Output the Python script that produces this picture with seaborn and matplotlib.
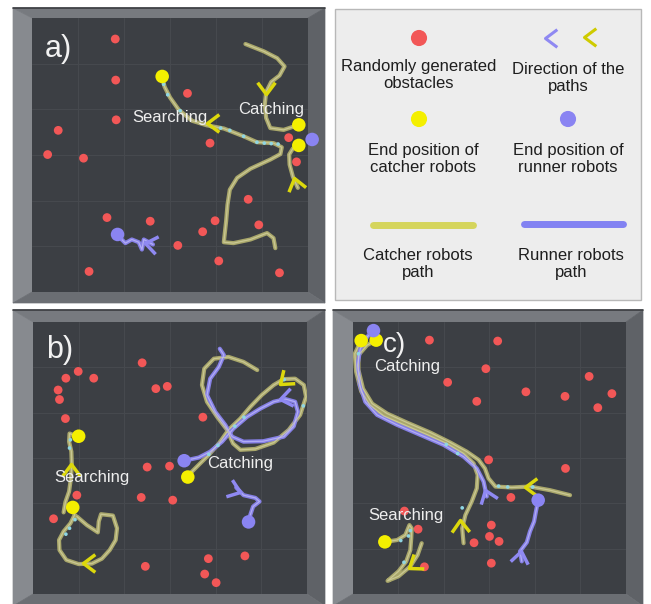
import matplotlib
matplotlib.use("Agg")
import matplotlib.pyplot as plt
from matplotlib.markers import MarkerStyle
from matplotlib.path import Path
from matplotlib.transforms import Affine2D
from matplotlib.patches import Polygon, Rectangle
import seaborn as sns

sns.set_style("white")
plt.rcParams["font.family"] = ["Liberation Sans", "DejaVu Sans"]

# ---------------- arena a ----------------
a_obst_x = [1.81, 1.82, 1.83, 3.38, 0.57, 0.34, 1.12, 3.87, 5.58, 5.75, 4.70, 1.63, 2.57, 3.98, 4.93, 3.71, 3.17, 4.06, 1.24, 5.38]
a_obst_y = [0.46, 1.36, 2.23, 1.65, 2.46, 2.99, 3.07, 2.74, 2.62, 3.15, 3.97, 4.37, 4.45, 4.44, 4.53, 4.68, 4.98, 5.32, 5.55, 5.58]
a_catcher_end_x = [2.83, 5.80, 5.80]
a_catcher_end_y = [1.28, 2.34, 2.79]
a_runner_end_x = [6.09, 1.86]
a_runner_end_y = [2.66, 4.74]

a_c1_x = [5.29, 5.25, 5.11, 4.75, 4.38, 4.17, 4.22, 4.25, 4.30, 4.46, 4.75, 5.18, 5.40, 5.43, 5.25, 4.89, 4.60, 4.17, 3.80, 3.48, 3.19, 3.00, 2.88, 2.83]
a_c1_y = [5.04, 4.82, 4.71, 4.85, 4.93, 4.91, 4.45, 4.09, 3.76, 3.50, 3.30, 3.10, 2.98, 2.83, 2.74, 2.72, 2.59, 2.42, 2.35, 2.25, 2.01, 1.74, 1.50, 1.28]
a_c2_x = [4.64, 5.04, 5.33, 5.49, 5.38, 5.20, 5.09, 5.06, 5.09, 5.18, 5.47, 5.80]
a_c2_y = [0.57, 0.73, 0.88, 1.06, 1.26, 1.40, 1.62, 1.90, 2.19, 2.41, 2.45, 2.34]
a_c3_x = [5.78, 5.67, 5.60, 5.59, 5.67, 5.80]
a_c3_y = [3.72, 3.47, 3.21, 2.99, 2.86, 2.79]
a_r1_x = [2.63, 2.43, 2.39, 2.32, 2.17, 2.03, 1.92, 1.86]
a_r1_y = [4.96, 4.85, 5.07, 4.91, 4.85, 4.93, 4.82, 4.74]
a_dots_x = [2.86, 2.95, 3.22, 3.90, 4.10, 4.30, 4.60, 4.89, 5.05, 5.20, 5.35]
a_dots_y = [1.45, 1.68, 2.03, 2.38, 2.41, 2.46, 2.59, 2.72, 2.74, 2.75, 2.76]
a_arrow_x = [3.80, 5.09, 5.70]
a_arrow_y = [2.30, 1.66, 3.50]
a_arrow_deg = [180, 270, 105]
a_rarrow_x = [2.46]
a_rarrow_y = [4.93]
a_rarrow_deg = [170]

# ---------------- arena b ----------------
b_obst_x = [2.39, 0.99, 0.72, 1.33, 0.55, 0.58, 2.69, 2.94, 3.72, 0.71, 2.50, 2.99, 2.37, 3.06, 0.96, 0.45, 2.46, 3.84, 4.64, 3.76, 4.01]
b_obst_y = [0.90, 1.09, 1.24, 1.24, 1.50, 1.71, 1.47, 1.42, 2.10, 2.13, 3.20, 3.18, 3.87, 3.93, 3.82, 4.34, 5.39, 5.22, 5.16, 5.56, 5.75]
b_catcher_end_x = [1.00, 0.87, 3.39]
b_catcher_end_y = [2.52, 4.09, 3.42]
b_runner_end_x = [3.31, 4.72]
b_runner_end_y = [3.06, 4.41]

b_c1_x = [0.67, 0.71, 0.79, 0.83, 0.85, 0.84, 0.79, 0.80, 0.93]
b_c1_y = [4.20, 3.97, 3.74, 3.45, 3.15, 2.86, 2.64, 2.46, 2.51]
b_c2_x = [0.96, 1.18, 1.42, 1.44, 1.49, 1.75, 1.84, 1.81, 1.68, 1.51, 1.29, 1.00, 0.73, 0.58, 0.57, 0.67, 0.82, 0.91, 0.87]
b_c2_y = [4.29, 4.48, 4.64, 4.40, 4.24, 4.27, 4.55, 4.81, 5.03, 5.22, 5.33, 5.34, 5.25, 5.03, 4.81, 4.62, 4.44, 4.26, 4.09]
b_c3_x = [4.91, 4.61, 4.28, 3.96, 3.75, 3.70, 3.81, 4.03, 4.25, 4.38, 4.54, 4.87, 5.27, 5.60, 5.85, 5.98, 5.93, 5.74, 5.49, 5.27, 5.01, 4.76, 4.54, 4.28, 4.07, 3.85, 3.63, 3.48, 3.39]
b_c3_y = [1.06, 0.88, 0.77, 0.81, 1.03, 1.39, 1.76, 2.09, 2.38, 2.68, 2.82, 2.80, 2.66, 2.38, 2.05, 1.65, 1.39, 1.25, 1.26, 1.39, 1.61, 1.87, 2.13, 2.38, 2.68, 2.93, 3.15, 3.30, 3.42]
b_r1_x = [4.09, 4.18, 4.07, 3.88, 3.81, 3.99, 4.21, 4.36, 4.61, 5.04, 5.49, 5.71, 5.80, 5.74, 5.53, 5.27, 4.98, 4.69, 4.39, 4.14, 3.88, 3.63, 3.31]
b_r1_y = [0.59, 0.73, 0.99, 1.25, 1.61, 1.98, 2.27, 2.53, 2.64, 2.63, 2.53, 2.30, 1.98, 1.76, 1.70, 1.76, 1.91, 2.09, 2.35, 2.64, 2.86, 2.99, 3.06]
b_r2_x = [4.45, 4.61, 4.87, 4.96, 4.82, 4.76, 4.72]
b_r2_y = [3.65, 3.82, 3.88, 3.96, 4.07, 4.25, 4.41]
b_dots_x = [0.82, 0.80, 0.92, 0.80, 0.72, 4.42, 4.62, 4.05, 3.85, 5.50, 5.92]
b_dots_y = [2.60, 2.78, 4.36, 4.55, 4.68, 2.30, 2.10, 2.72, 2.92, 1.27, 1.85]
b_arrow_x = [0.84, 1.10, 5.40]
b_arrow_y = [3.14, 5.32, 1.36]
b_arrow_deg = [90, 180, 220]
b_rarrow_x = [5.41, 4.54]
b_rarrow_y = [1.69, 3.74]
b_rarrow_deg = [190, -20]

# ---------------- arena c ----------------
c_obst_x = [1.68, 3.18, 2.92, 2.08, 2.72, 3.80, 4.66, 5.19, 5.69, 5.38, 2.98, 4.67, 3.47, 1.13, 1.43, 3.04, 3.00, 3.21, 2.66, 3.04, 1.57]
c_obst_y = [0.40, 0.42, 1.03, 1.33, 1.75, 1.54, 1.64, 1.20, 1.58, 1.89, 3.04, 3.23, 3.87, 4.17, 4.57, 4.48, 4.73, 4.84, 4.87, 5.32, 5.40]
c_catcher_end_x = [0.18, 0.51, 0.70]
c_catcher_end_y = [0.41, 0.40, 4.85]
c_runner_end_x = [0.45, 4.07]
c_runner_end_y = [0.19, 3.93]

c_c1_x = [2.43, 2.40, 2.47, 2.61, 2.72, 2.74, 2.65, 2.43, 2.06, 1.62, 1.11, 0.67, 0.37, 0.18, 0.07, 0.04, 0.18]
c_c1_y = [4.88, 4.55, 4.26, 3.96, 3.67, 3.37, 3.12, 2.90, 2.68, 2.48, 2.26, 2.07, 1.83, 1.53, 1.10, 0.70, 0.41]
c_c2_x = [4.77, 4.33, 3.89, 3.49, 3.13, 2.98, 2.90, 2.76, 2.50, 2.14, 1.70, 1.19, 0.75, 0.42, 0.22, 0.12, 0.12, 0.31, 0.51]
c_c2_y = [3.82, 3.71, 3.63, 3.65, 3.63, 3.45, 3.23, 3.04, 2.86, 2.66, 2.44, 2.22, 2.02, 1.80, 1.47, 1.06, 0.73, 0.51, 0.40]
c_c3_x = [1.51, 1.42, 1.26, 1.00, 0.76, 1.00, 1.17, 1.26, 1.28, 1.29, 1.24, 1.15, 0.97, 0.70]
c_c3_y = [4.88, 5.14, 5.39, 5.61, 5.71, 5.50, 5.28, 5.03, 4.77, 4.55, 4.48, 4.70, 4.81, 4.85]
c_r1_x = [2.94, 2.87, 2.72, 2.43, 1.99, 1.48, 0.97, 0.53, 0.27, 0.15, 0.10, 0.16, 0.31, 0.45]
c_r1_y = [3.85, 3.52, 3.23, 2.97, 2.71, 2.49, 2.27, 2.05, 1.76, 1.39, 0.95, 0.59, 0.33, 0.19]
c_r2_x = [3.71, 3.67, 3.82, 3.89, 3.98, 4.02, 4.07]
c_r2_y = [5.28, 5.06, 4.86, 4.62, 4.40, 4.18, 3.93]
c_dots_x = [1.05, 1.22, 1.26, 1.12, 2.30, 2.05, 3.20, 3.40, 3.95, 2.40, 0.12]
c_dots_y = [4.82, 4.72, 4.60, 5.30, 2.90, 2.70, 3.62, 3.64, 3.64, 4.10, 0.70]
c_arrow_x = [2.36, 3.78, 1.22]
c_arrow_y = [4.37, 3.63, 5.43]
c_arrow_deg = [92, 180, 215]
c_rarrow_x = [2.90, 3.69]
c_rarrow_y = [3.70, 5.06]
c_rarrow_deg = [110, 80]

# ---------------- texts ----------------
panel_letters = ["a)", "b)", "c)"]
letter_x = [0.57, 0.59, 0.92]
letter_y = [0.68, 0.62, 0.50]
searching_xy = [(2.99, 2.17), (1.29, 3.43), (1.16, 4.27)]
catching_xy = [(5.20, 2.01), (4.53, 3.13), (1.19, 0.99)]

legend_labels = [
    ("Randomly generated", "obstacles"),
    ("Direction of the", "paths"),
    ("End position of", "catcher robots"),
    ("End position of", "runner robots"),
    ("Catcher robots", "path"),
    ("Runner robots", "path"),
]

# ---------------- colours ----------------
RED = "#f25757"
YELLOW = "#f4ef00"
BLUE = "#8a84f2"
CATCH_BASE, CATCH_CORE = "#a9a76b", "#d2d09e"
RUN_BASE, RUN_CORE = "#8680e6", "#bdb9f7"
ARROW_Y = "#dcd80c"
ARROW_B = "#8f89f2"
DOT_CYAN = "#8fd6e3"

W, H = 651, 604
fig = plt.figure(figsize=(W / 100, H / 100), dpi=100)
bg = fig.add_axes([0, 0, 1, 1])
bg.set_xlim(0, W)
bg.set_ylim(H, 0)
bg.axis("off")

CHEV = Path([(-1, 0.75), (0, 0), (-1, -0.75)], [Path.MOVETO, Path.LINETO, Path.LINETO])


def chevron(deg):
    return MarkerStyle(CHEV, transform=Affine2D().rotate_deg(deg))


def draw_frame(outer, inner):
    ox0, oy0, ox1, oy1 = outer
    ix0, iy0, ix1, iy1 = inner
    sides = [
        ([(ox0, oy0), (ix0, iy0), (ix0, iy1), (ox0, oy1)], "#878a8f"),
        ([(ox0, oy0), (ox1, oy0), (ix1, iy0), (ix0, iy0)], "#777a7f"),
        ([(ox1, oy0), (ox1, oy1), (ix1, iy1), (ix1, iy0)], "#5f6267"),
        ([(ox0, oy1), (ox1, oy1), (ix1, iy1), (ix0, iy1)], "#6b6e73"),
    ]
    for pts, col in sides:
        bg.add_patch(Polygon(pts, closed=True, fc=col, ec=col, lw=0.5))
    bg.plot([ox0, ox1], [oy0, oy0], color="#3a3c40", lw=1.2)


def make_arena(inner):
    ix0, iy0, ix1, iy1 = inner
    ax = fig.add_axes([ix0 / W, 1 - iy1 / H, (ix1 - ix0) / W, (iy1 - iy0) / H])
    ax.set_facecolor("#3c3f44")
    return ax


def finish_arena(ax):
    ax.set_xlim(0, 6)
    ax.set_ylim(6, 0)
    ax.set_xticks(range(1, 6))
    ax.set_yticks(range(1, 6))
    ax.tick_params(length=0, labelbottom=False, labelleft=False)
    ax.set_xlabel("")
    ax.set_ylabel("")
    ax.grid(True, color="#46494e", lw=0.8)
    ax.set_axisbelow(True)
    for s in ax.spines.values():
        s.set_visible(False)


def draw_path(ax, xs, ys, base, core):
    sns.lineplot(x=xs, y=ys, sort=False, estimator=None, color=base, lw=3.0,
                 ax=ax, legend=False, zorder=3, solid_capstyle="round", solid_joinstyle="round")
    sns.lineplot(x=xs, y=ys, sort=False, estimator=None, color=core, lw=0.9, alpha=0.8,
                 ax=ax, legend=False, zorder=3.1, solid_capstyle="round", solid_joinstyle="round")


def draw_arrows(ax, xs, ys, degs, col):
    for x, y, d in zip(xs, ys, degs):
        ax.plot([x], [y], linestyle="none", marker=chevron(d), ms=17, mec=col,
                mfc="none", mew=2.5, zorder=5)


def draw_arena(ax, obst, cends, rends, cpaths, rpaths, dots, carrows, rarrows):
    sns.scatterplot(x=obst[0], y=obst[1], s=40, color=RED, edgecolor="none", ax=ax, zorder=2, legend=False)
    for xs, ys in cpaths:
        draw_path(ax, xs, ys, CATCH_BASE, CATCH_CORE)
    for xs, ys in rpaths:
        draw_path(ax, xs, ys, RUN_BASE, RUN_CORE)
    sns.scatterplot(x=dots[0], y=dots[1], s=7, color=DOT_CYAN, edgecolor="none", ax=ax, zorder=3.5, legend=False)
    draw_arrows(ax, *carrows, ARROW_Y)
    draw_arrows(ax, *rarrows, ARROW_B)
    sns.scatterplot(x=cends[0], y=cends[1], s=95, color=YELLOW, edgecolor="none", ax=ax,
                    zorder=6, legend=False, clip_on=False)
    sns.scatterplot(x=rends[0], y=rends[1], s=95, color=BLUE, edgecolor="none", ax=ax,
                    zorder=6, legend=False, clip_on=False)
    finish_arena(ax)


panels = [
    dict(outer=(13, 8, 325, 303), inner=(32, 18, 308, 292),
         obst=(a_obst_x, a_obst_y), cends=(a_catcher_end_x, a_catcher_end_y),
         rends=(a_runner_end_x, a_runner_end_y),
         cpaths=[(a_c1_x, a_c1_y), (a_c2_x, a_c2_y), (a_c3_x, a_c3_y)],
         rpaths=[(a_r1_x, a_r1_y)], dots=(a_dots_x, a_dots_y),
         carrows=(a_arrow_x, a_arrow_y, a_arrow_deg), rarrows=(a_rarrow_x, a_rarrow_y, a_rarrow_deg)),
    dict(outer=(13, 310, 325, 606), inner=(33, 322, 307, 594),
         obst=(b_obst_x, b_obst_y), cends=(b_catcher_end_x, b_catcher_end_y),
         rends=(b_runner_end_x, b_runner_end_y),
         cpaths=[(b_c1_x, b_c1_y), (b_c2_x, b_c2_y), (b_c3_x, b_c3_y)],
         rpaths=[(b_r1_x, b_r1_y), (b_r2_x, b_r2_y)], dots=(b_dots_x, b_dots_y),
         carrows=(b_arrow_x, b_arrow_y, b_arrow_deg), rarrows=(b_rarrow_x, b_rarrow_y, b_rarrow_deg)),
    dict(outer=(333, 310, 643, 606), inner=(353, 322, 626, 594),
         obst=(c_obst_x, c_obst_y), cends=(c_catcher_end_x, c_catcher_end_y),
         rends=(c_runner_end_x, c_runner_end_y),
         cpaths=[(c_c1_x, c_c1_y), (c_c2_x, c_c2_y), (c_c3_x, c_c3_y)],
         rpaths=[(c_r1_x, c_r1_y), (c_r2_x, c_r2_y)], dots=(c_dots_x, c_dots_y),
         carrows=(c_arrow_x, c_arrow_y, c_arrow_deg), rarrows=(c_rarrow_x, c_rarrow_y, c_rarrow_deg)),
]

letter_sizes = [22, 22, 20]
for i, p in enumerate(panels):
    draw_frame(p["outer"], p["inner"])
    ax = make_arena(p["inner"])
    draw_arena(ax, p["obst"], p["cends"], p["rends"], p["cpaths"], p["rpaths"],
               p["dots"], p["carrows"], p["rarrows"])
    ax.text(letter_x[i], letter_y[i], panel_letters[i], color="#f2f2f2", fontsize=letter_sizes[i],
            ha="center", va="center", zorder=8)
    sx, sy = searching_xy[i]
    ax.text(sx, sy, "Searching", color="#eeeeee", fontsize=12, ha="center", va="center", zorder=8)
    cx, cy = catching_xy[i]
    ax.text(cx, cy, "Catching", color="#eeeeee", fontsize=12, ha="center", va="center", zorder=8)

# ---------------- legend panel ----------------
bg.add_patch(Rectangle((335, 9), 306, 291, fc="#ededed", ec="#b8b8b8", lw=1))
sns.scatterplot(x=[419], y=[38], s=135, color=RED, edgecolor="none", ax=bg, legend=False, zorder=3)
sns.scatterplot(x=[419], y=[119], s=135, color=YELLOW, edgecolor="none", ax=bg, legend=False, zorder=3)
sns.scatterplot(x=[568], y=[119], s=135, color=BLUE, edgecolor="none", ax=bg, legend=False, zorder=3)
bg.plot([545], [38], linestyle="none", marker=chevron(180), ms=17, mec=ARROW_B, mfc="none", mew=2.2, zorder=3)
bg.plot([584], [37], linestyle="none", marker=chevron(180), ms=17, mec="#cfcb00", mfc="none", mew=2.2, zorder=3)
sns.lineplot(x=[373, 473], y=[225, 225], color="#d5d55c", lw=5, ax=bg, legend=False, zorder=3)
sns.lineplot(x=[524, 623], y=[224, 224], color="#8282f2", lw=5, ax=bg, legend=False, zorder=3)
legend_pos = [(419, 66), (568, 69), (423, 151), (568, 151), (418, 256), (571, 256)]
for (l1, l2), (x, y) in zip(legend_labels, legend_pos):
    bg.text(x, y, l1, fontsize=12, color="#1e1e1e", ha="center", va="center", zorder=4)
    bg.text(x, y + 17, l2, fontsize=12, color="#1e1e1e", ha="center", va="center", zorder=4)
bg.set_xlim(0, W)
bg.set_ylim(H, 0)
bg.axis("off")

fig.savefig("out.png", dpi=100, facecolor="white")
